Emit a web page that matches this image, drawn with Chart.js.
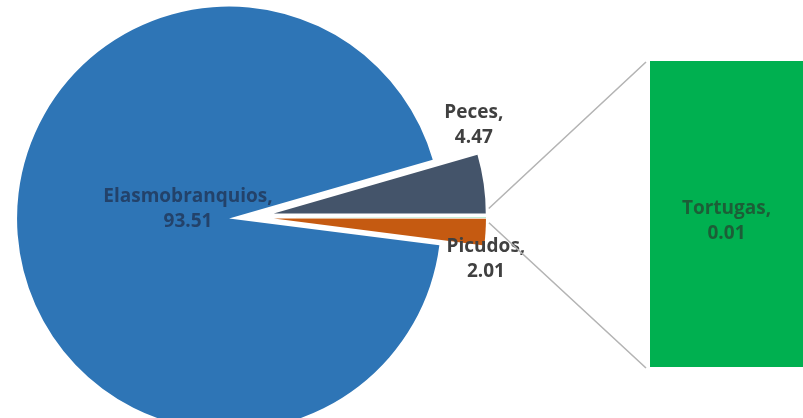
<!DOCTYPE html>
<html>
<head>
<meta charset="utf-8">
<script src="https://cdn.jsdelivr.net/npm/chart.js@4.4.1/dist/chart.umd.min.js"></script>
<style>
  html, body { margin: 0; padding: 0; background: #ffffff; }
  #wrap { position: relative; width: 803px; height: 418px; overflow: hidden; }
  #wrap canvas { position: absolute; left: 0; top: 0; }
</style>
</head>
<body>
<div id="wrap">
  <canvas id="pie" width="803" height="418"></canvas>
  <canvas id="bar" width="803" height="418"></canvas>
</div>
<script>
// ---- data ----
const mainCategories = ['Peces', 'Picudos', 'Elasmobranquios'];
const mainValues = [4.47, 2.01, 93.51];
const barCategories = ['Tortugas'];
const barValues = [0.01];
const otherLabel = 'Otros';

// ---- styles ----
const mainColors = ['#44546A', '#C55A11', '#2E75B6'];
const otherColor = '#00B050';
const barColors = ['#00B050'];
const sliceExplode = [25, 25, 25, 20];           // px, per pie slice (pie order)
const labelPlacement = {                          // radius factor, angle shift (deg)
  'Peces': { r: 1.146, a: -14.2, color: '#404040' },
  'Picudos': { r: 1.135, a: 6.4, color: '#404040' },
  'Elasmobranquios': { r: 0.29, a: 11.5, color: '#23426A' }
};
const FONT = 'bold 19px "Open Sans", "DejaVu Sans", sans-serif';
const LINE_H = 25;

// pie order (clockwise): Peces, Otros (bar group), Picudos, Elasmobranquios
const otherValue = barValues.reduce((a, b) => a + b, 0);
const pieLabels = [mainCategories[0], otherLabel, mainCategories[1], mainCategories[2]];
const pieValues = [mainValues[0], otherValue, mainValues[1], mainValues[2]];
const pieColors = [mainColors[0], otherColor, mainColors[1], mainColors[2]];
const total = pieValues.reduce((a, b) => a + b, 0);
const rotation = 90 - pieValues[0] / total * 360;

function fmt(v) { return v.toFixed(2); }

const explodePlugin = {
  id: 'explodePie',
  beforeDatasetDraw(chart, args) {
    const ctx = chart.ctx;
    args.meta.data.forEach((arc, i) => {
      const mid = (arc.startAngle + arc.endAngle) / 2;
      const d = sliceExplode[i] || 0;
      ctx.save();
      ctx.translate(Math.cos(mid) * d, Math.sin(mid) * d);
      arc.draw(ctx, chart.chartArea);
      ctx.restore();
    });
    return false;
  },
  afterDatasetsDraw(chart) {
    const ctx = chart.ctx;
    const meta = chart.getDatasetMeta(0);
    ctx.save();
    ctx.font = FONT;
    ctx.textAlign = 'center';
    ctx.textBaseline = 'middle';
    meta.data.forEach((arc, i) => {
      const name = pieLabels[i];
      const p = labelPlacement[name];
      if (!p) return;
      const mid = (arc.startAngle + arc.endAngle) / 2 + p.a * Math.PI / 180;
      const dist = arc.outerRadius * p.r;
      const x = arc.x + Math.cos(mid) * dist;
      const y = arc.y + Math.sin(mid) * dist;
      ctx.fillStyle = p.color;
      ctx.fillText(name + ',', x, y - LINE_H / 2);
      ctx.fillText(fmt(pieValues[i]), x, y + LINE_H / 2);
    });
    ctx.restore();
  }
};

const pieChart = new Chart(document.getElementById('pie'), {
  type: 'pie',
  data: {
    labels: pieLabels,
    datasets: [{
      data: pieValues,
      backgroundColor: pieColors,
      borderWidth: 0,
      radius: 212
    }]
  },
  options: {
    responsive: false,
    animation: false,
    rotation: rotation,
    radius: 212,
    layout: { padding: { left: 0, right: 305, top: 16, bottom: 0 } },
    plugins: { legend: { display: false }, tooltip: { enabled: false } }
  },
  plugins: [explodePlugin]
});

const connectorPlugin = {
  id: 'connectors',
  afterDatasetsDraw(chart) {
    const ctx = chart.ctx;
    const bar = chart.getDatasetMeta(0).data;
    const first = bar[0];
    const left = first.x - first.width / 2;
    const top = Math.min(...bar.map(b => b.y));
    const bottom = Math.max(...bar.map(b => b.base));
    const arcs = pieChart.getDatasetMeta(0).data;
    // outer corners of the slices adjacent to the bar group
    const corner = (arc, angle, d, dy) => {
      const mid = (arc.startAngle + arc.endAngle) / 2;
      return {
        x: arc.x + Math.cos(mid) * d + Math.cos(angle) * arc.outerRadius + 3,
        y: arc.y + Math.sin(mid) * d + Math.sin(angle) * arc.outerRadius + dy
      };
    };
    const p1 = corner(arcs[0], arcs[0].endAngle, sliceExplode[0], -5);
    const p2 = corner(arcs[2], arcs[2].startAngle, sliceExplode[2], 4);
    ctx.save();
    ctx.strokeStyle = '#B4B4B4';
    ctx.lineWidth = 1.6;
    ctx.beginPath();
    ctx.moveTo(p1.x, p1.y); ctx.lineTo(left - 4, top + 1);
    ctx.moveTo(p2.x, p2.y); ctx.lineTo(left - 4, bottom + 1);
    ctx.stroke();
    // bar labels
    ctx.font = FONT;
    ctx.textAlign = 'center';
    ctx.textBaseline = 'middle';
    ctx.fillStyle = '#1C5E37';
    bar.forEach((b, i) => {
      const cy = (b.y + b.base) / 2 + 7;
      ctx.fillText(barCategories[i] + ',', b.x, cy - LINE_H / 2);
      ctx.fillText(fmt(barValues[i]), b.x, cy + LINE_H / 2);
    });
    ctx.restore();
  }
};

new Chart(document.getElementById('bar'), {
  type: 'bar',
  data: {
    labels: ['Otros'],
    datasets: barValues.map((v, i) => ({
      label: barCategories[i],
      data: [v],
      backgroundColor: barColors[i],
      borderWidth: 0,
      barPercentage: 1,
      categoryPercentage: 1,
      stack: 's'
    }))
  },
  options: {
    responsive: false,
    animation: false,
    layout: { padding: { left: 650, right: 0, top: 61, bottom: 51 } },
    scales: {
      x: { display: false, stacked: true },
      y: { display: false, stacked: true, min: 0, max: otherValue }
    },
    plugins: { legend: { display: false }, tooltip: { enabled: false } }
  },
  plugins: [connectorPlugin]
});
</script>
</body>
</html>
